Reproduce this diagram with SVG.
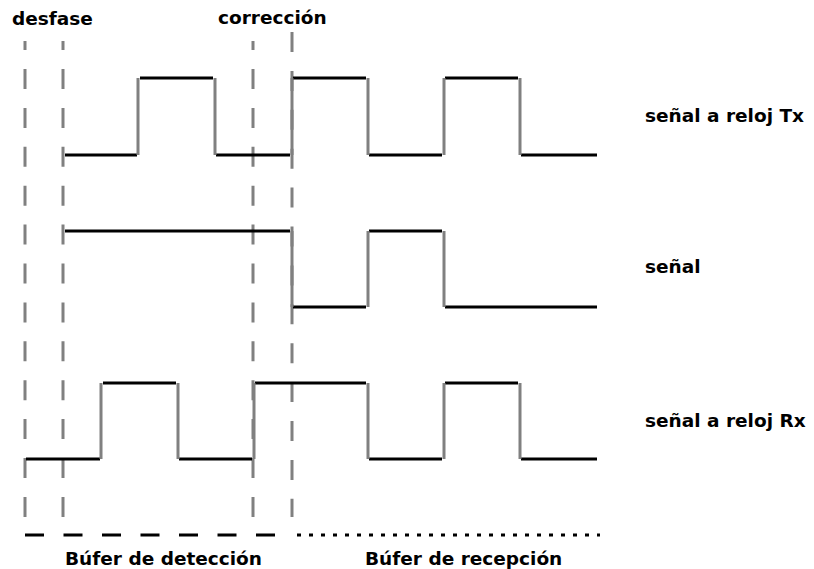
<svg xmlns="http://www.w3.org/2000/svg" width="814" height="569" viewBox="0 0 814 569">
<style>
.lbl{font-family:"DejaVu Sans",Verdana,sans-serif;font-weight:bold;font-size:18.5px;fill:#000}
.guide{stroke:#808080;stroke-width:3;stroke-dasharray:20 18.9;fill:none}
.h{stroke:#000;stroke-width:3;fill:none}
.v{stroke:#808080;stroke-width:3;fill:none}
</style>
<rect width="814" height="569" fill="#fff"/>
<g id="guides">
<line class="guide" x1="25" y1="41" x2="25" y2="517" stroke-dashoffset="10.9"/>
<line class="guide" x1="63" y1="41" x2="63" y2="517" stroke-dashoffset="10.9"/>
<line class="guide" x1="253" y1="41" x2="253" y2="517" stroke-dashoffset="10.9"/>
<line class="guide" x1="292" y1="32" x2="292" y2="517"/>
</g>
<g id="tx">
<path class="h" d="M65 155H137M140 78H213M216 155H290M293 78H366M369 155H442M445 78H518M521 155H597"/>
<path class="v" d="M138 155V78M215 78V155M292 155V78M368 78V155M444 155V78M520 78V155"/>
</g>
<g id="signal">
<path class="h" d="M65 231H290M293 307H366M369 231H442M445 307H597"/>
<path class="v" d="M292 231V307M368 307V231M444 231V307"/>
</g>
<g id="rx">
<path class="h" d="M26 459H100M103 383H176M179 459H252M255 383H366M369 459H442M445 383H518M521 459H597"/>
<path class="v" d="M101 459V383M178 383V459M254 459V383M368 383V459M444 459V383M520 383V459"/>
</g>
<g id="buffers">
<line x1="25" y1="535" x2="280" y2="535" stroke="#000" stroke-width="3" stroke-dasharray="19 19.5"/>
<line x1="297" y1="535" x2="600" y2="535" stroke="#000" stroke-width="3" stroke-dasharray="4 8"/>
</g>
<g id="labels">
<text class="lbl" x="12" y="25">desfase</text>
<text class="lbl" x="218" y="24">corrección</text>
<text class="lbl" x="645" y="122">señal a reloj Tx</text>
<text class="lbl" x="645" y="273">señal</text>
<text class="lbl" x="645" y="427">señal a reloj Rx</text>
<text class="lbl" x="65" y="565">Búfer de detección</text>
<text class="lbl" x="365" y="565">Búfer de recepción</text>
</g>
</svg>
